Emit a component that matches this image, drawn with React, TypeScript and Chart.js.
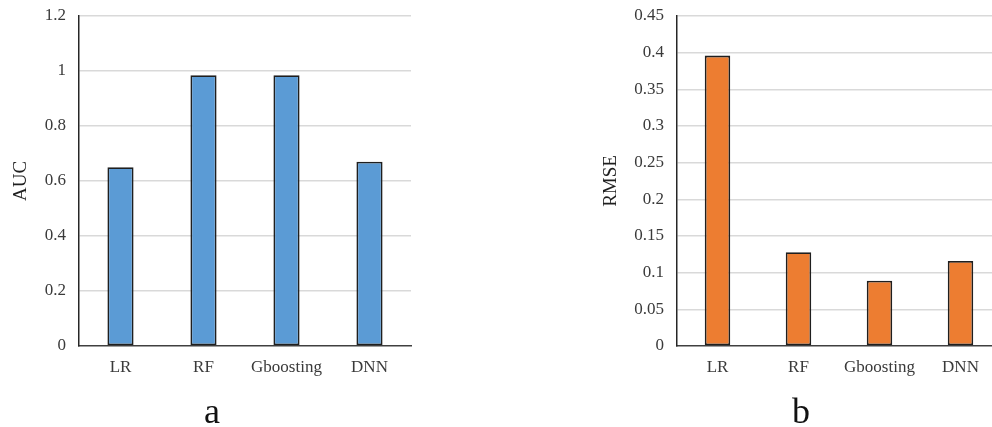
import React, { useEffect, useRef } from 'react';
import { Chart, registerables } from 'chart.js';

Chart.register(...registerables);

const categories = ['LR', 'RF', 'Gboosting', 'DNN'];
const aucValues = [0.65, 0.985, 0.985, 0.67];
const rmseValues = [0.396, 0.128, 0.089, 0.116];
const aucTicks = [0, 0.2, 0.4, 0.6, 0.8, 1, 1.2];
const rmseTicks = [0, 0.05, 0.1, 0.15, 0.2, 0.25, 0.3, 0.35, 0.4, 0.45];

const FONT = "'Liberation Serif', 'Times New Roman', serif";

type PanelProps = {
  values: number[];
  ticks: number[];
  title: string;
  color: string;
  yWidth: number;
  left: number;
  caption: string;
  captionX: number;
};

function Panel({ values, ticks, title, color, yWidth, left, caption, captionX }: PanelProps) {
  const ref = useRef<HTMLCanvasElement | null>(null);
  useEffect(() => {
    if (!ref.current) return;
    const chart = new Chart(ref.current, {
      type: 'bar',
      data: {
        labels: categories,
        datasets: [
          {
            data: values,
            backgroundColor: color,
            borderColor: '#1f1f1f',
            borderWidth: 1.8,
            borderSkipped: false,
            categoryPercentage: 1,
            barPercentage: 0.315,
          },
        ],
      },
      options: {
        responsive: false,
        animation: false,
        devicePixelRatio: 1,
        layout: { padding: { top: 16, right: 19, bottom: 0, left: 0 } },
        plugins: { legend: { display: false }, tooltip: { enabled: false } },
        scales: {
          x: {
            grid: { display: false, drawTicks: false },
            border: { display: true, color: '#404040', width: 1.5 },
            ticks: {
              color: '#3a3a3a',
              font: { family: FONT, size: 17 },
              padding: 11,
              maxRotation: 0,
              autoSkip: false,
            },
            afterFit: (s: any) => {
              s.height = 427 - 346;
            },
          },
          y: {
            min: ticks[0],
            max: ticks[ticks.length - 1],
            afterBuildTicks: (s: any) => {
              s.ticks = ticks.map((v) => ({ value: v }));
            },
            grid: {
              drawTicks: false,
              lineWidth: 1.5,
              color: (c: any) => (c.tick && c.tick.value === 0 ? 'rgba(0,0,0,0)' : '#d9d9d9'),
            },
            border: { display: true, color: '#262626', width: 1.5 },
            ticks: {
              color: '#3a3a3a',
              font: { family: FONT, size: 17 },
              padding: 13,
              callback: (v: any) => String(+Number(v).toFixed(2)),
            },
            title: {
              display: true,
              text: title,
              color: '#1f1f1f',
              font: { family: FONT, size: 19 },
              padding: { top: 10, bottom: 0 },
            },
            afterFit: (s: any) => {
              s.width = yWidth;
              s.paddingTop = 0;
              s.paddingBottom = 0;
            },
          },
        },
      },
    });
    return () => chart.destroy();
  }, []);
  return (
    <>
      <canvas
        ref={ref}
        width={430}
        height={427}
        style={{ position: 'absolute', left, top: 0, width: 430, height: 427 }}
      />
      <div
        style={{
          position: 'absolute',
          left: captionX - 50,
          top: 393,
          width: 100,
          textAlign: 'center',
          fontFamily: FONT,
          fontSize: 36,
          lineHeight: '36px',
          color: '#111',
        }}
      >
        {caption}
      </div>
    </>
  );
}

export default function App() {
  return (
    <div
      style={{
        position: 'fixed',
        left: 0,
        top: 0,
        width: 992,
        height: 427,
        overflow: 'hidden',
        background: '#fff',
      }}
    >
      <Panel
        values={aucValues}
        ticks={aucTicks}
        title="AUC"
        color="#5b9bd5"
        yWidth={79}
        left={0}
        caption="a"
        captionX={212}
      />
      <Panel
        values={rmseValues}
        ticks={rmseTicks}
        title="RMSE"
        color="#ed7d31"
        yWidth={87}
        left={590}
        caption="b"
        captionX={801}
      />
    </div>
  );
}
